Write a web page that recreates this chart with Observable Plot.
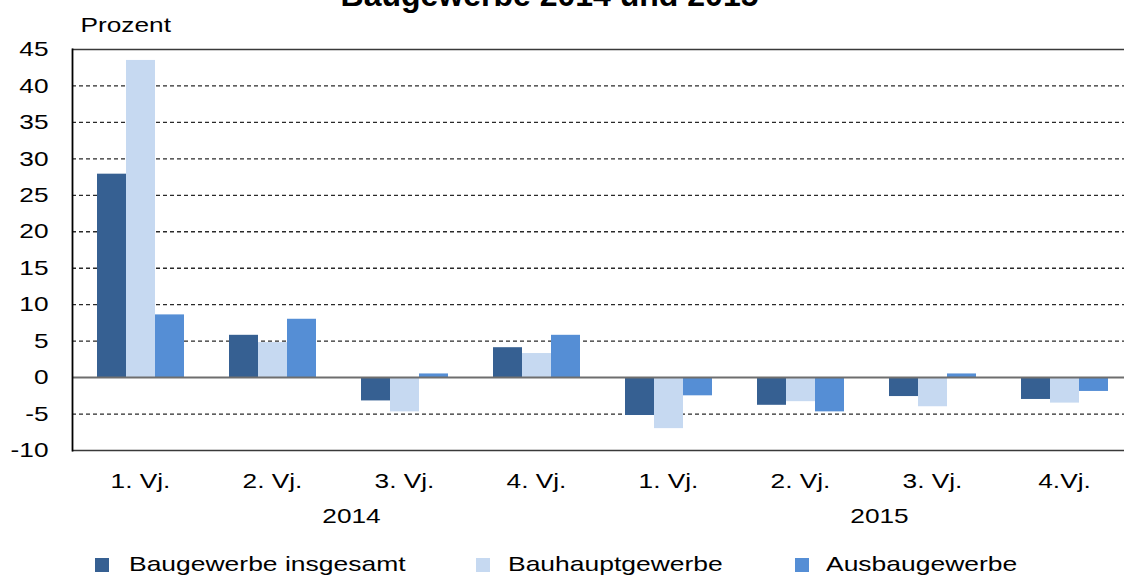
<!DOCTYPE html>
<html>
<head>
<meta charset="utf-8">
<script src="https://cdn.jsdelivr.net/npm/d3@7"></script>
<script src="https://cdn.jsdelivr.net/npm/@observablehq/plot@0.6"></script>
<style>
  body { margin: 0; background: #fff; font-family: "Liberation Sans", Arial, sans-serif; overflow: hidden; }
  #wrap { position: relative; width: 1124px; height: 576px; overflow: hidden; }
  #title { position: absolute; top: -21px; left: 0; width: 1099px; text-align: center; font-weight: bold; font-size: 32px; line-height: 32px; color: #000; }
  #grid, #chart { position: absolute; top: 0; left: 0; }
  .leg { position: absolute; top: 553px; font-size: 21px; line-height: 22px; color: #000; white-space: nowrap; transform: scaleX(1.26); transform-origin: left center; }
  .sw { position: absolute; top: 558px; width: 14px; height: 14px; }
</style>
</head>
<body>
<div id="wrap">
  <div id="title"></div>
  <div id="grid"></div>
  <div id="chart"></div>
  <div id="legend"></div>
</div>
<script>
const titleText = "Baugewerbe 2014 und 2015";
const unitLabel = "Prozent";
const periods = ["1. Vj. 2014", "2. Vj. 2014", "3. Vj. 2014", "4. Vj. 2014",
                 "1. Vj. 2015", "2. Vj. 2015", "3. Vj. 2015", "4. Vj. 2015"];
const quarterLabels = ["1. Vj.", "2. Vj.", "3. Vj.", "4. Vj.", "1. Vj.", "2. Vj.", "3. Vj.", "4.Vj."];
const years = ["2014", "2015"];
const yearAnchorPeriods = ["2. Vj. 2014", "2. Vj. 2015"];
const series = ["Baugewerbe insgesamt", "Bauhauptgewerbe", "Ausbaugewerbe"];
const insgesamt = [27.9, 5.8, -3.2, 4.1, -5.2, -3.8, -2.6, -3.0];
const bauhaupt  = [43.5, 4.8, -4.7, 3.3, -7.0, -3.3, -4.0, -3.5];
const ausbau    = [8.6, 8.0, 0.5, 5.8, -2.5, -4.7, 0.5, -1.9];
const colors = ["#366092", "#C6D9F1", "#558ED5"];
const yTicks = [-10, -5, 0, 5, 10, 15, 20, 25, 30, 35, 40, 45];
const dashedGrid = [-5, 5, 10, 15, 20, 25, 30, 35, 40];
const frameLines = [-10, 45];

const valuesBySeries = [insgesamt, bauhaupt, ausbau];
const data = [];
periods.forEach((p, i) => series.forEach((s, j) => data.push({period: p, series: s, value: valuesBySeries[j][i]})));
const yearData = years.map((y, i) => ({year: y, period: yearAnchorPeriods[i]}));

document.getElementById("title").textContent = titleText;

// The reference's lettering is horizontally wide; stretch SVG text around its anchor.
const textStretch = 1.25;
function stretchText(svg, k) {
  svg.querySelectorAll("text").forEach(t => {
    const tr = t.getAttribute("transform") || "";
    t.setAttribute("transform", (tr + ` scale(${k},1)`).trim());
    const x = t.getAttribute("x");
    if (x !== null && !isNaN(+x)) t.setAttribute("x", +x / k);
  });
}

const font = "'Liberation Sans', Arial, sans-serif";
const common = {
  width: 1124, height: 540, marginLeft: 72, marginRight: -8, marginTop: 49, marginBottom: 90,
  style: {fontFamily: font, fontSize: "21px", color: "#000", background: "transparent", overflow: "visible"}
};

// Background: grid, frame lines, y axis
const grid = Plot.plot({
  ...common,
  y: {domain: [-10, 45], ticks: yTicks, tickSize: 0, tickPadding: 24, label: null, tickFormat: d => String(d)},
  marks: [
    Plot.ruleY(dashedGrid, {stroke: "#2a2a2a", strokeWidth: 1.3, strokeDasharray: "4,3"}),
    Plot.ruleY(frameLines, {stroke: "#3a3a3a", strokeWidth: 1.5}),
    Plot.text([unitLabel], {text: d => d, frameAnchor: "top-left", dx: 8, dy: -24, lineAnchor: "middle", textAnchor: "start", fill: "#000"})
  ]
});
stretchText(grid, textStretch);
document.getElementById("grid").appendChild(grid);

// Foreground: grouped bars
const chart = Plot.plot({
  ...common,
  fx: {domain: periods, paddingInner: 0.33, paddingOuter: 0.165, label: null, axis: "bottom",
       tickSize: 0, tickPadding: 23, tickFormat: d => quarterLabels[periods.indexOf(d)]},
  x: {domain: series, axis: null, padding: 0},
  y: {domain: [-10, 45], axis: null},
  color: {domain: series, range: colors},
  marks: [
    Plot.barY(data, {fx: "period", x: "series", y: "value", fill: "series"}),
    Plot.text(yearData, {fx: "period", text: "year", frameAnchor: "bottom-right", dx: 35, dy: 58, lineAnchor: "top", textAnchor: "middle", fill: "#000"})
  ]
});
stretchText(chart, textStretch);
document.getElementById("chart").appendChild(chart);

// Zero line and left axis line on top of bars
const overlay = Plot.plot({
  ...common,
  y: {domain: [-10, 45], axis: null},
  marks: [
    Plot.ruleY([0], {stroke: "#6e6e6e", strokeWidth: 2}),
    Plot.frame({anchor: "left", stroke: "#000", strokeWidth: 1.8})
  ]
});
overlay.style.position = "absolute";
overlay.style.top = "0";
overlay.style.left = "0";
document.getElementById("wrap").appendChild(overlay);

const legendLeft = [95, 476, 795];
const textLeft = [129, 508, 826];
const legend = document.getElementById("legend");
series.forEach((s, i) => {
  const sw = document.createElement("div");
  sw.className = "sw";
  sw.style.background = colors[i];
  sw.style.left = legendLeft[i] + "px";
  legend.appendChild(sw);
  const t = document.createElement("div");
  t.className = "leg";
  t.style.left = textLeft[i] + "px";
  t.textContent = s;
  legend.appendChild(t);
});
</script>
</body>
</html>
